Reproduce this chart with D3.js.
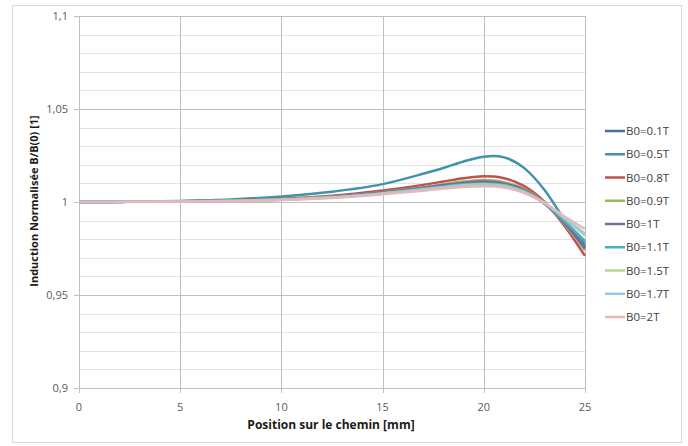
<!DOCTYPE html>
<html><head><meta charset="utf-8">
<script src="https://cdn.jsdelivr.net/npm/d3@7"></script>
<style>body{margin:0;background:#fff}svg{display:block}text{font-family:"Open Sans","Liberation Sans",sans-serif}</style>
</head><body><svg id="c" width="688" height="446"></svg>
<script>
const xs = [0,2.5,5,7.5,10,12.5,15,17,18,19,20,20.5,21,22,23,24,25];
const seriesNames = ["B0=0.1T","B0=0.5T","B0=0.8T","B0=0.9T","B0=1T","B0=1.1T","B0=1.5T","B0=1.7T","B0=2T"];
const seriesColors = ["#4470A8","#3F93AC","#C0504D","#9BBB59","#8064A2","#4BACC6","#B9D192","#93CDDD","#E6B9B8"];
const b01 = [1.0000,1.0001,1.0003,1.0007,1.0014,1.0027,1.0050,1.0074,1.0088,1.0100,1.0106,1.0104,1.0096,1.0060,0.9990,0.9895,0.9760];
const b05 = [1.0000,1.0002,1.0006,1.0014,1.0030,1.0055,1.0096,1.0152,1.0183,1.0218,1.0243,1.0247,1.0240,1.0182,1.0065,0.9905,0.9775];
const b08 = [1.0000,1.0001,1.0004,1.0009,1.0018,1.0034,1.0062,1.0092,1.0110,1.0128,1.0138,1.0137,1.0128,1.0085,1.0000,0.9870,0.9710];
const b09 = [1.0000,1.0001,1.0003,1.0008,1.0015,1.0029,1.0054,1.0080,1.0096,1.0110,1.0118,1.0116,1.0107,1.0070,0.9995,0.9880,0.9740];
const b10 = [1.0000,1.0001,1.0003,1.0007,1.0014,1.0028,1.0052,1.0077,1.0091,1.0104,1.0110,1.0108,1.0100,1.0065,0.9992,0.9885,0.9750];
const b11 = [1.0000,1.0001,1.0003,1.0007,1.0013,1.0026,1.0048,1.0071,1.0084,1.0095,1.0100,1.0098,1.0091,1.0058,0.9993,0.9895,0.9790];
const b15 = [1.0000,1.0001,1.0003,1.0006,1.0013,1.0025,1.0046,1.0068,1.0080,1.0090,1.0095,1.0093,1.0087,1.0055,0.9995,0.9910,0.9820];
const b17 = [1.0000,1.0001,1.0003,1.0006,1.0012,1.0024,1.0045,1.0066,1.0078,1.0087,1.0092,1.0090,1.0084,1.0052,0.9995,0.9912,0.9830];
const b20 = [1.0000,1.0001,1.0002,1.0006,1.0011,1.0022,1.0042,1.0061,1.0072,1.0081,1.0085,1.0084,1.0078,1.0048,0.9995,0.9922,0.9855];
const seriesValues = [b01,b05,b08,b09,b10,b11,b15,b17,b20];
const xTicks = [0,5,10,15,20,25];
const yTicks = [0.9,0.95,1,1.05,1.1];
const yTickLabels = ["0,9","0,95","1","1,05","1,1"];

const svg = d3.select("#c");
svg.append("rect").attr("x",12.5).attr("y",5.5).attr("width",669).attr("height",437)
  .attr("fill","#fff").attr("stroke","#D9D9D9").attr("stroke-width",1);

const x = d3.scaleLinear().domain([0,25]).range([79,585]);
const y = d3.scaleLinear().domain([0.9,1.1]).range([388,16]);

const minor = d3.range(0.9,1.1001,0.01).map(v=>+v.toFixed(2)).filter(v=>!yTicks.some(t=>Math.abs(t-v)<1e-6));
svg.append("g").selectAll("line").data(minor).join("line")
  .attr("x1",x(0)).attr("x2",x(25)).attr("y1",d=>Math.round(y(d))+0.5).attr("y2",d=>Math.round(y(d))+0.5)
  .attr("stroke","#E3E3E3").attr("stroke-width",1);
svg.append("g").selectAll("line").data(yTicks).join("line")
  .attr("x1",x(0)-5).attr("x2",x(25)).attr("y1",d=>Math.round(y(d))+0.5).attr("y2",d=>Math.round(y(d))+0.5)
  .attr("stroke","#BFBFBF").attr("stroke-width",1);
svg.append("g").selectAll("line").data(xTicks).join("line")
  .attr("x1",d=>Math.round(x(d))+0.5).attr("x2",d=>Math.round(x(d))+0.5).attr("y1",y(1.1)).attr("y2",y(0.9)+5)
  .attr("stroke","#BFBFBF").attr("stroke-width",1);

svg.append("g").selectAll("text").data(yTicks).join("text")
  .attr("x",68).attr("y",d=>y(d)+4).attr("text-anchor","end")
  .attr("font-size",11).attr("fill","#595959").text((d,i)=>yTickLabels[i]);
svg.append("g").selectAll("text").data(xTicks).join("text")
  .attr("x",d=>x(d)).attr("y",411).attr("text-anchor","middle")
  .attr("font-size",11).attr("fill","#595959").text(d=>d);

svg.append("text").attr("x",331).attr("y",429).attr("text-anchor","middle")
  .attr("font-size",12).attr("font-weight","bold").attr("fill","#1a1a1a").text("Position sur le chemin [mm]");
svg.append("text").attr("transform","translate(38,201) rotate(-90)").attr("text-anchor","middle")
  .attr("font-size",11).attr("font-weight","bold").attr("fill","#1a1a1a").text("Induction Normalisée B/B(0) [1]");

const line = d3.line().x((d,i)=>x(xs[i])).y(d=>y(d)).curve(d3.curveMonotoneX);
svg.append("g").selectAll("path").data(seriesValues).join("path")
  .attr("d",d=>line(d)).attr("fill","none")
  .attr("stroke",(d,i)=>seriesColors[i]).attr("stroke-width",2.5).attr("stroke-linejoin","round");

const lg = svg.append("g").selectAll("g").data(seriesNames).join("g")
  .attr("transform",(d,i)=>`translate(605,${131+i*23.25})`);
lg.append("line").attr("x1",0).attr("x2",20).attr("y1",0).attr("y2",0)
  .attr("stroke",(d,i)=>seriesColors[i]).attr("stroke-width",2.5);
lg.append("text").attr("x",21).attr("y",4).attr("font-size",11.5).attr("fill","#404040").text(d=>d);
</script></body></html>
